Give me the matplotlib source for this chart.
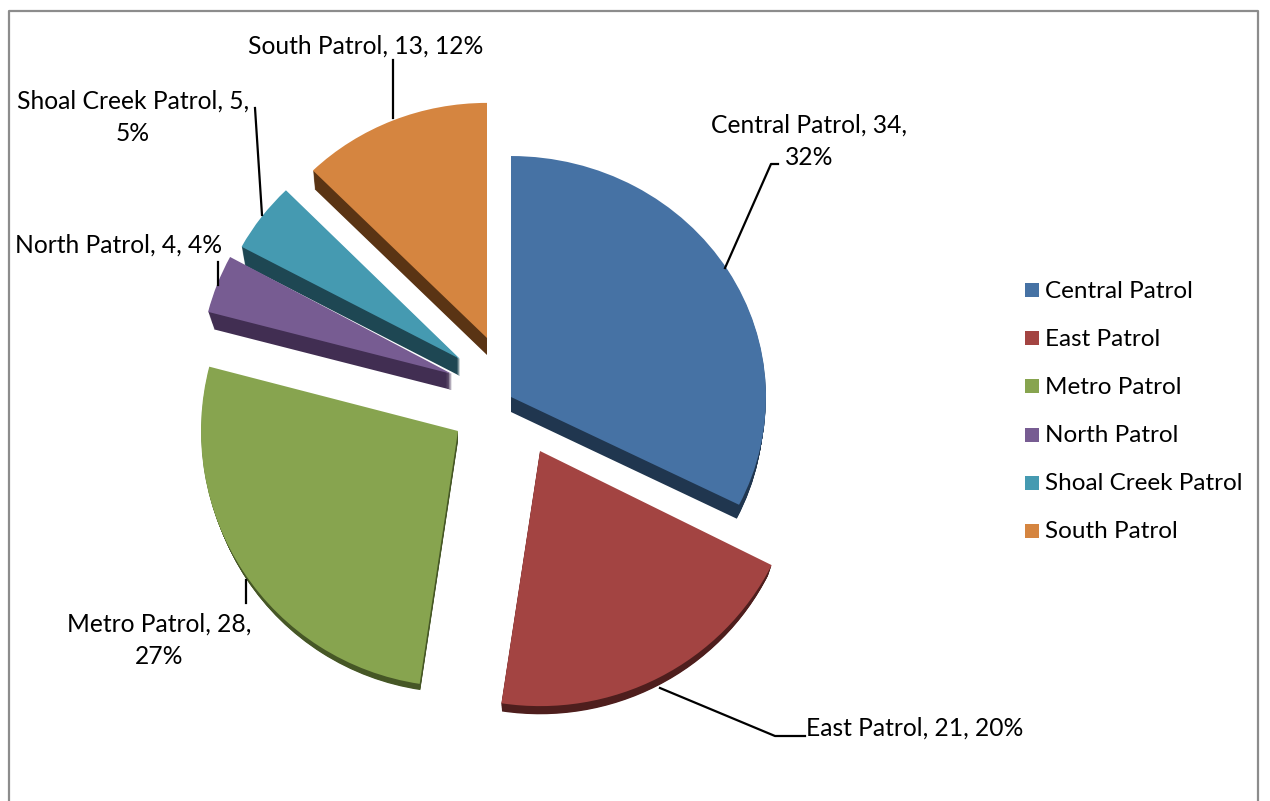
import matplotlib
matplotlib.use("Agg")
import matplotlib.pyplot as plt
from matplotlib.patches import Wedge, Rectangle
from matplotlib.transforms import Affine2D

# data
names = ["Central Patrol", "East Patrol", "Metro Patrol", "North Patrol", "Shoal Creek Patrol", "South Patrol"]
counts = [34, 21, 28, 4, 5, 13]
percents = [32, 20, 27, 4, 5, 12]

colors = ["#4672A4", "#A34442", "#87A44F", "#775C92", "#459AB1", "#D58540"]
side_colors = ["#20364F", "#4E1E1D", "#465726", "#412E52", "#1E4753", "#5A3414"]

# each slice in pixels of the picture: apex, x radius, flattening
apex = [(511, 397), (540, 451), (458, 431), (452, 374), (460, 359), (487, 338)]
radius = [255, 259, 257, 252, 248, 248]
flat = [0.945, 0.985, 0.995, 0.98, 0.955, 0.948]
# the underside is a bit smaller and sits lower
side_scale = [0.99, 0.985, 0.985, 0.975, 0.985, 0.99]
side_drop = [15, 12, 10, 16, 17, 17]

fig = plt.figure(figsize=(12.7, 8.01), dpi=100)
plt.rcParams["font.family"] = ["Lato", "DejaVu Sans"]

# pie axes, one unit is one pixel
ax = fig.add_axes([0, 0, 1, 1])
wedges, _ = ax.pie(counts, startangle=90, counterclock=False, radius=1, colors=colors)
ax.set_aspect("auto")
ax.set_xlim(0, 1270)
ax.set_ylim(801, 0)


def slice_tf(i, scale=1.0, dy=0):
    # wedge stays a unit wedge, this puts it where the slice sits
    r = radius[i] * scale
    return (Affine2D().scale(r, -r * flat[i])
            .translate(apex[i][0], apex[i][1] + dy) + ax.transData)


for i, w in enumerate(wedges):
    w.set_center((0, 0))
    w.set_transform(slice_tf(i))
    w.set_zorder(20 + i)
    # side of the slice
    n = side_drop[i]
    for d in range(1, n + 1):
        p = Wedge((0, 0), 1, w.theta1, w.theta2, fc=side_colors[i], ec="none", zorder=10 + i)
        ax.add_patch(p)
        p.set_transform(slice_tf(i, 1 - (1 - side_scale[i]) * d / n, d))

# pixel axes for labels, lines and legend
ov = fig.add_axes([0, 0, 1, 1], zorder=5)
ov.set_xlim(0, 1270)
ov.set_ylim(801, 0)
ov.axis("off")
ov.patch.set_alpha(0)

# frame
ov.plot([9, 9, 1258, 1258], [801, 11, 11, 801], color="#8C8C8C", lw=1.6)

# leader lines
lines = [
    ([778, 771, 725], [164, 164, 268]),
    ([805, 775, 660], [736, 736, 688]),
    ([246, 246], [603, 580]),
    ([218, 218], [262, 285]),
    ([255, 262], [108, 215]),
    ([393, 393], [60, 118]),
]
for xs, ys in lines:
    ov.plot(xs, ys, color="black", lw=1.6)

# data labels
fs = 17.7
labels = [
    (809, 141, f"{names[0]}, {counts[0]},\n{percents[0]}%"),
    (915, 728, f"{names[1]}, {counts[1]}, {percents[1]}%"),
    (159, 640, f"{names[2]}, {counts[2]},\n{percents[2]}%"),
    (119, 245, f"{names[3]}, {counts[3]}, {percents[3]}%"),
    (133, 117, f"{names[4]}, {counts[4]},\n{percents[4]}%"),
    (366, 46, f"{names[5]}, {counts[5]}, {percents[5]}%"),
]
for x, y, s in labels:
    ov.text(x, y, s, ha="center", va="center", fontsize=fs, color="black", linespacing=1.5)

# legend
for i, n in enumerate(names):
    y = 290 + i * 48.2
    ov.add_patch(Rectangle((1025, y - 7), 14, 14, fc=colors[i], ec="none"))
    ov.text(1045, y + 1, n, ha="left", va="center", fontsize=17.5, color="black")

fig.savefig("out.png", dpi=100)
